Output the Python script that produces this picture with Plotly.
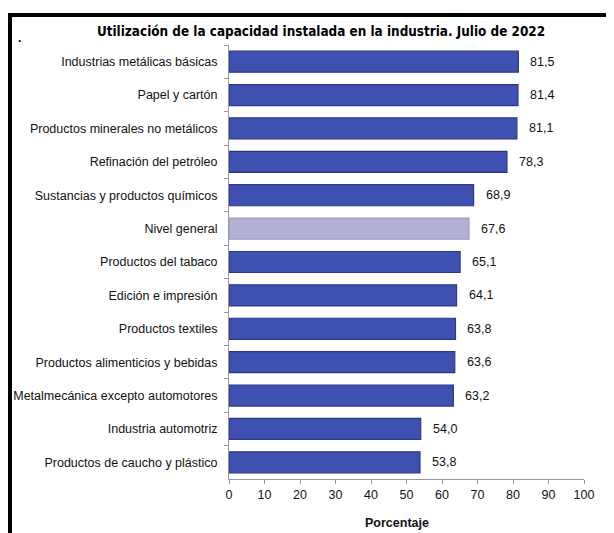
import plotly.graph_objects as go

categories = [
    "Industrias metálicas básicas",
    "Papel y cartón",
    "Productos minerales no metálicos",
    "Refinación del petróleo",
    "Sustancias y productos químicos",
    "Nivel general",
    "Productos del tabaco",
    "Edición e impresión",
    "Productos textiles",
    "Productos alimenticios y bebidas",
    "Metalmecánica excepto automotores",
    "Industria automotriz",
    "Productos de caucho y plástico",
]
values = [81.5, 81.4, 81.1, 78.3, 68.9, 67.6, 65.1, 64.1, 63.8, 63.6, 63.2, 54.0, 53.8]
x_ticks = [0, 10, 20, 30, 40, 50, 60, 70, 80, 90, 100]

BLUE = "rgb(63,81,176)"
BLUE_EDGE = "rgb(44,54,140)"
GREY = "rgb(180,178,212)"
GREY_EDGE = "rgb(160,158,200)"

fills = [GREY if c == "Nivel general" else BLUE for c in categories]
edges = [GREY_EDGE if c == "Nivel general" else BLUE_EDGE for c in categories]

OFF = 8  # page body margin
W, H = 614 - OFF, 533 - OFF
ML, MR, MT, MB = 229 - OFF, 30, 45 - OFF, 54

fig = go.Figure()
fig.add_trace(go.Bar(
    x=values, y=categories, orientation="h",
    marker=dict(color=fills, line=dict(color=edges, width=1.2)),
    width=0.63, hoverinfo="skip",
))

for c, v in zip(categories, values):
    fig.add_annotation(
        x=v, y=c, xref="x", yref="y",
        text=f"{v:.1f}".replace(".", ","),
        showarrow=False, xanchor="left", xshift=10,
        font=dict(family="Liberation Sans, Arial", size=12.5, color="#111"),
    )

pw = W - ML - MR
ph = H - MT - MB
def px(x):
    return (x - OFF - ML) / pw
def py(y):
    return (H - MB - (y - OFF)) / ph

# black frame (top and left), drawn as one polyline path
frame_path = "M {x0},{y0} L {x0},{y1} L {x2},{y1}".format(
    x0=px(10), y0=py(540), y1=py(15), x2=px(620))
fig.add_shape(type="path", path=frame_path, xref="paper", yref="paper",
              layer="above", line=dict(color="black", width=4))
fig.add_annotation(xref="paper", yref="paper", x=px(16), y=py(29),
                   text="<b>.</b>", showarrow=False,
                   font=dict(size=12, color="black"))

fig.add_annotation(xref="paper", yref="paper", x=px(397), y=py(523),
                   text="<b>Porcentaje</b>", showarrow=False,
                   xanchor="center", yanchor="middle",
                   font=dict(family="Liberation Sans, Arial", size=12.5, color="#111"))

fig.update_layout(
    width=W, height=H,
    margin=dict(l=ML, r=MR, t=MT, b=MB, autoexpand=False),
    paper_bgcolor="white", plot_bgcolor="white",
    showlegend=False,
    title=dict(
        text="<b>Utilización de la capacidad instalada en la industria. Julio de 2022</b>",
        xref="container", yref="container",
        x=(321 - OFF) / W, xanchor="center", y=1 - (31 - OFF) / H, yanchor="middle",
        font=dict(family="DejaVu Sans Condensed", size=13.4, color="black"),
    ),
    font=dict(family="Liberation Sans, Arial", size=12.5, color="#111"),
)
fig.update_xaxes(
    range=[0, 100], tickvals=x_ticks, ticktext=[str(t) for t in x_ticks],
    showgrid=False, zeroline=False, automargin=False,
    showline=True, linecolor="#999", linewidth=1,
    ticks="outside", ticklen=4, tickcolor="#999",
    tickfont=dict(size=12.5, color="#111"),
)
fig.update_yaxes(
    categoryorder="array", categoryarray=categories, autorange="reversed",
    showgrid=False, zeroline=False, automargin=False,
    showline=True, linecolor="#999", linewidth=1,
    ticks="outside", ticklen=4, tickcolor="#999", tickson="boundaries",
    tickfont=dict(size=12.5, color="#111"),
    ticklabelstandoff=8,
)

fig.write_html("out.html")
